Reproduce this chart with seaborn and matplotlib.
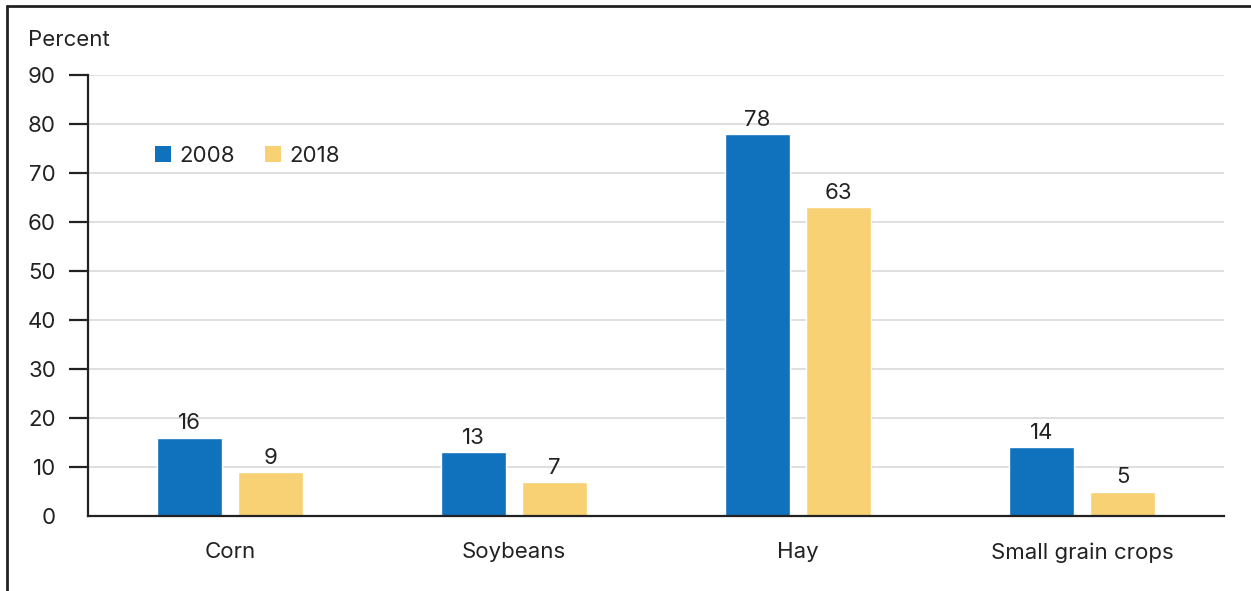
import matplotlib
matplotlib.use("Agg")
import matplotlib.pyplot as plt
import seaborn as sns
import pandas as pd
from matplotlib.lines import Line2D
from matplotlib.patches import Patch

categories = ["Corn", "Soybeans", "Hay", "Small grain crops"]
years = ["2008", "2018"]
values_2008 = [16, 13, 78, 14]
values_2018 = [9, 7, 63, 5]
yticks = [0, 10, 20, 30, 40, 50, 60, 70, 80, 90]

df = pd.DataFrame({
    "category": categories * 2,
    "year": [years[0]] * 4 + [years[1]] * 4,
    "value": values_2008 + values_2018,
})

sns.set_style("white")
plt.rcParams["font.family"] = ["Inter", "DejaVu Sans"]
TXT = "#222222"
BLUE = "#1071BC"
YELLOW = "#F7D174"
FS = 16

fig = plt.figure(figsize=(12.51, 5.91), dpi=100)
ax = fig.add_axes([88 / 1251, 1 - 516 / 591, (1224 - 88) / 1251, (516 - 75) / 591])

sns.barplot(data=df, x="category", y="value", hue="year", order=categories,
            hue_order=years, palette=[BLUE, YELLOW], width=0.57, gap=0.2,
            saturation=1, ax=ax, legend=False, errorbar=None)

ax.set_xlim(-0.5, 3.5)
ax.set_ylim(0, 90)
ax.set_yticks(yticks)
ax.set_yticklabels([str(t) for t in yticks])
ax.set_xlabel("")
ax.set_ylabel("")
ax.yaxis.grid(True, color="#d9d9d9", linewidth=1.2)
ax.set_axisbelow(True)
for s in ["top", "right"]:
    ax.spines[s].set_visible(False)
for s in ["left", "bottom"]:
    ax.spines[s].set_color(TXT)
    ax.spines[s].set_linewidth(1.6)
ax.tick_params(axis="y", length=14, width=1.6, color=TXT, pad=9, labelsize=FS, labelcolor=TXT, left=True)
ax.tick_params(axis="x", length=0, pad=19, labelsize=FS, labelcolor=TXT)
ax.yaxis.get_major_ticks()[0].tick1line.set_visible(False)

for cont in ax.containers:
    ax.bar_label(cont, fmt="%d", padding=3, fontsize=FS, color=TXT)

handles = [Patch(facecolor=BLUE, edgecolor="none"), Patch(facecolor=YELLOW, edgecolor="none")]
fig.legend(handles, years, loc="upper left", bbox_to_anchor=(135 / 1251, 1 - 126 / 591),
           ncol=2, frameon=False, fontsize=FS, handlelength=0.7, handleheight=0.7,
           handletextpad=0.4, columnspacing=1.35, labelcolor=TXT)

fig.text(28 / 1251, 1 - 40 / 591, "Percent", fontsize=FS, color=TXT, va="center", ha="left")

fig.add_artist(Line2D([7 / 1251, 1], [1 - 6 / 591, 1 - 6 / 591], transform=fig.transFigure,
                      color=TXT, linewidth=2))
fig.add_artist(Line2D([7 / 1251, 7 / 1251], [0, 1 - 6 / 591], transform=fig.transFigure,
                      color=TXT, linewidth=2))

fig.savefig("out.png", dpi=100)
